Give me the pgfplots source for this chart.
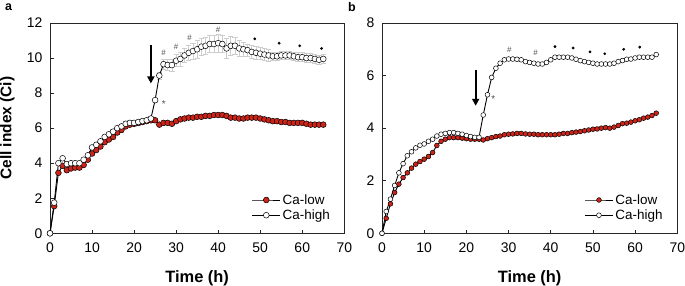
\documentclass[border=0pt]{standalone}
\usepackage{pgfplots}
\pgfplotsset{compat=1.18}
\usepackage{pgfplotstable}
\usepackage{fontspec}
\setmainfont{Liberation Sans}
\usetikzlibrary{arrows.meta}
\definecolor{cared}{RGB}{205,35,25}
\definecolor{errgray}{RGB}{205,205,205}
\definecolor{siggray}{RGB}{80,80,80}

\pgfplotstableread{
t low lowe high highe
0 0 0 0 0
1 1.55 0.05 1.75 0.05
2 3.45 0.05 4.00 0.05
3 3.85 0.05 4.28 0.05
4 3.60 0.05 3.95 0.05
5 3.70 0.05 4.00 0.05
6 3.75 0.05 4.00 0.05
7 3.75 0.05 4.00 0.05
8 3.90 0.05 4.20 0.05
9 4.20 0.05 4.45 0.05
10 4.55 0.08 4.90 0.08
11 4.75 0.08 5.05 0.08
12 4.95 0.08 5.25 0.08
13 5.20 0.1 5.50 0.1
14 5.35 0.1 5.65 0.1
15 5.50 0.12 5.80 0.12
16 5.75 0.12 6.00 0.12
17 5.90 0.12 6.10 0.12
18 6.10 0.12 6.25 0.12
19 6.20 0.12 6.30 0.12
20 6.25 0.12 6.30 0.12
21 6.30 0.12 6.35 0.12
22 6.35 0.12 6.40 0.12
23 6.40 0.12 6.45 0.12
24 6.45 0.12 6.55 0.12
25 6.45 0.1 7.60 0.1
26 6.20 0.1 9.00 0.2
27 6.30 0.1 9.65 0.3
28 6.30 0.1 9.60 0.3
29 6.25 0.1 9.60 0.35
30 6.40 0.1 9.85 0.35
31 6.50 0.1 9.95 0.4
32 6.55 0.1 10.15 0.4
33 6.60 0.1 10.30 0.45
34 6.60 0.1 10.40 0.45
35 6.65 0.1 10.50 0.5
36 6.65 0.1 10.65 0.5
37 6.70 0.1 10.70 0.5
38 6.70 0.1 10.80 0.5
39 6.75 0.1 10.80 0.5
40 6.75 0.1 10.85 0.5
41 6.75 0.1 10.80 0.5
42 6.70 0.1 10.55 0.55
43 6.60 0.1 10.70 0.55
44 6.60 0.1 10.70 0.5
45 6.55 0.1 10.55 0.45
46 6.55 0.1 10.50 0.4
47 6.60 0.1 10.45 0.35
48 6.60 0.1 10.35 0.35
49 6.60 0.1 10.30 0.35
50 6.55 0.1 10.25 0.35
51 6.50 0.1 10.20 0.35
52 6.45 0.1 10.15 0.35
53 6.40 0.1 10.10 0.25
54 6.40 0.1 10.10 0.25
55 6.35 0.1 10.15 0.25
56 6.35 0.1 10.15 0.25
57 6.30 0.1 10.15 0.25
58 6.30 0.1 10.10 0.25
59 6.30 0.1 10.05 0.25
60 6.30 0.1 10.05 0.25
61 6.25 0.1 10.00 0.25
62 6.20 0.1 10.00 0.25
63 6.20 0.1 9.95 0.25
64 6.20 0.1 9.90 0.25
65 6.20 0.1 9.95 0.25
}\dataA

\pgfplotstableread{
t low high
0 0 0
1 0.57 0.83
2 1.12 1.30
3 1.55 1.82
4 1.87 2.30
5 2.12 2.65
6 2.30 2.95
7 2.48 3.10
8 2.63 3.25
9 2.73 3.35
10 2.82 3.40
11 2.92 3.50
12 3.07 3.58
13 3.34 3.70
14 3.50 3.77
15 3.58 3.80
16 3.64 3.83
17 3.64 3.83
18 3.64 3.80
19 3.62 3.77
20 3.60 3.72
21 3.58 3.68
22 3.58 3.65
23 3.58 3.65
24 3.55 4.50
25 3.60 5.27
26 3.64 5.93
27 3.68 6.28
28 3.70 6.47
29 3.75 6.60
30 3.77 6.63
31 3.78 6.63
32 3.80 6.62
33 3.80 6.60
34 3.78 6.53
35 3.77 6.50
36 3.77 6.47
37 3.75 6.44
38 3.75 6.44
39 3.75 6.50
40 3.75 6.60
41 3.75 6.70
42 3.77 6.70
43 3.80 6.70
44 3.80 6.70
45 3.83 6.67
46 3.85 6.62
47 3.87 6.57
48 3.90 6.53
49 3.93 6.50
50 3.96 6.47
51 3.97 6.44
52 4.00 6.44
53 4.02 6.44
54 4.00 6.44
55 4.04 6.47
56 4.10 6.53
57 4.17 6.57
58 4.19 6.62
59 4.23 6.63
60 4.28 6.67
61 4.32 6.70
62 4.38 6.70
63 4.42 6.70
64 4.48 6.70
65 4.57 6.80
}\dataB

\pgfplotsset{
  cistyle/.style={
    scale only axis,
    anchor=south west,
    xmin=0, xmax=70,
    xtick={0,10,...,70},
    tick align=inside,
    xtick pos=left, ytick pos=left,
    major tick length=3.5bp,
    axis line style={black!85, line width=0.8bp},
    every tick/.style={black!85, line width=0.6bp},
    /pgf/number format/assume math mode=true,
    tick label style={font=\fontsize{14}{16}\selectfont},
    xticklabel style={yshift=-6bp},
    yticklabel style={xshift=-4bp},
    every axis x label/.style={at={(axis description cs:0.5,-0.2125)}, anchor=center, font=\bfseries\fontsize{16.5}{18}\selectfont},
    every axis y label/.style={at={(axis description cs:-0.1444,0.5)}, anchor=center, rotate=90, font=\bfseries\fontsize{15.5}{17}\selectfont},
    legend style={draw=none, fill=none, font=\fontsize{13.5}{15}\selectfont, at={(axis description cs:0.675,0.205)}, anchor=north west, row sep=0bp},
    legend cell align=left,
    legend image code/.code={\draw[mark repeat=2,mark phase=2,##1] plot coordinates {(0bp,0bp) (14bp,0bp) (28bp,0bp)};},
    clip=false,
  },
  lowstyle/.style={black, line width=0.9bp, mark=*, mark options={fill=cared, draw=black, line width=0.5bp}},
  highstyle/.style={black, line width=0.9bp, mark=*, mark options={fill=white, draw=black, line width=0.5bp}},
}

\begin{document}
\begin{tikzpicture}
\path[use as bounding box] (0bp,0bp) rectangle (685bp,286bp);

\node[font=\bfseries\fontsize{12.5}{14}\selectfont] at (8.5bp,278.5bp) {a};
\node[font=\bfseries\fontsize{12.5}{14}\selectfont] at (352bp,278.5bp) {b};

% Panel a
\begin{axis}[cistyle,
  at={(50bp,52.7bp)},
  width=294.3bp, height=210.3bp,
  ymin=0, ymax=12, ytick={0,2,...,12},
  xlabel={Time (h)}, ylabel={Cell index (Ci)},
  mark size=2.9bp,
]
\addplot[draw=none, forget plot, error bars/.cd, y dir=both, y explicit,
  error bar style={errgray, line width=0.6bp},
  error mark options={rotate=90, mark size=2.6bp, errgray, line width=0.6bp}]
  table[x=t, y=low, y error=lowe] {\dataA};
\addplot[draw=none, forget plot, error bars/.cd, y dir=both, y explicit,
  error bar style={errgray, line width=0.7bp},
  error mark options={rotate=90, mark size=2.6bp, errgray, line width=0.7bp}]
  table[x=t, y=high, y error=highe] {\dataA};
\addplot[lowstyle] table[x=t, y=low] {\dataA};
\addlegendentry{Ca-low}
\addplot[highstyle] table[x=t, y=high] {\dataA};
\addlegendentry{Ca-high}
\addplot[only marks, mark=*, mark size=1.2bp, black, forget plot] coordinates {(48.7,11.1) (54.5,10.85) (59.4,10.7) (64.6,10.55)};
\draw[-{Triangle[length=7bp,width=7bp]}, line width=2.2bp] (axis cs:24,10.75) -- (axis cs:24,8.55);
\node[font=\fontsize{8}{9}\selectfont, siggray] at (axis cs:27,10.3) {\#};
\node[font=\fontsize{8}{9}\selectfont, siggray] at (axis cs:30,10.65) {\#};
\node[font=\fontsize{8}{9}\selectfont, siggray] at (axis cs:33.2,11.15) {\#};
\node[font=\fontsize{8}{9}\selectfont, siggray] at (axis cs:40,11.6) {\#};
\node[font=\fontsize{10}{11}\selectfont, siggray] at (axis cs:27.1,7.35) {*};
\end{axis}

% Panel b
\begin{axis}[cistyle,
  at={(382bp,52.7bp)},
  width=295.3bp, height=210.3bp,
  ymin=0, ymax=8, ytick={0,2,...,8},
  xlabel={Time (h)},
  mark size=2.4bp,
]
\addplot[lowstyle] table[x=t, y=low] {\dataB};
\addlegendentry{Ca-low}
\addplot[highstyle] table[x=t, y=high] {\dataB};
\addlegendentry{Ca-high}
\addplot[only marks, mark=*, mark size=1.2bp, black, forget plot] coordinates {(41,7.1) (45.3,7.05) (49.3,6.9) (52.8,6.83) (57.3,7.0) (61.1,7.08)};
\draw[-{Triangle[length=7bp,width=7bp]}, line width=2.2bp] (axis cs:22.2,6.2) -- (axis cs:22.2,4.85);
\node[font=\fontsize{8}{9}\selectfont, siggray] at (axis cs:30.2,7.0) {\#};
\node[font=\fontsize{8}{9}\selectfont, siggray] at (axis cs:36.4,6.85) {\#};
\node[font=\fontsize{10}{11}\selectfont, siggray] at (axis cs:26.4,5.1) {*};
\end{axis}
\end{tikzpicture}
\end{document}
